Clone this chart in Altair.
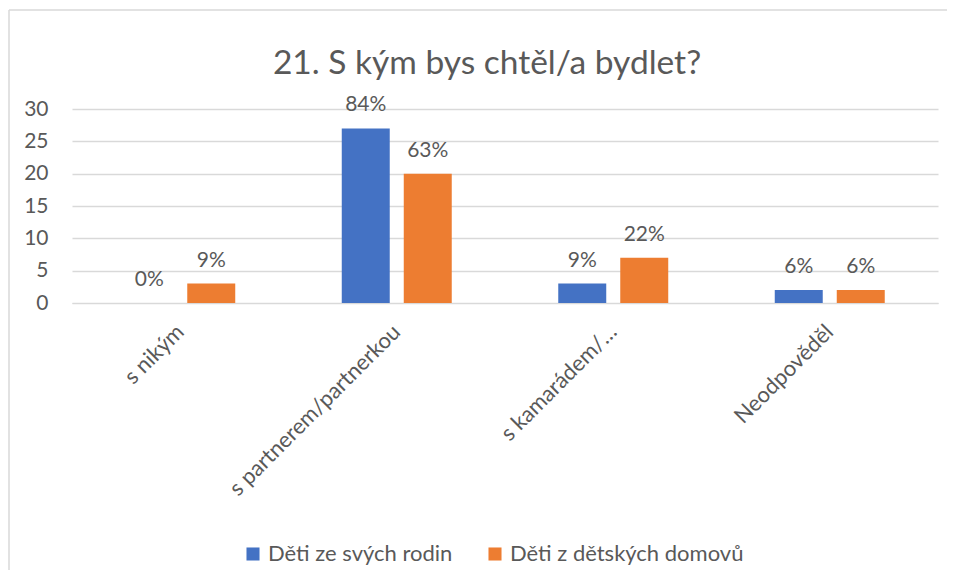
import altair as alt
import pandas as pd

categories = ["s nikým", "s partnerem/partnerkou", "s kamarádem/…", "Neodpověděl"]
series = ["Děti ze svých rodin", "Děti z dětských domovů"]
rodiny = [0, 27, 3, 2]
domovy = [3, 20, 7, 2]
rodiny_pct = ["0%", "84%", "9%", "6%"]
domovy_pct = ["9%", "63%", "22%", "6%"]
colors = ["#4472C4", "#ED7D31"]
title_text = "21. S kým bys chtěl/a bydlet?"

rows = []
for i, c in enumerate(categories):
    rows.append({"kat": c, "serie": series[0], "v": rodiny[i], "pct": rodiny_pct[i]})
    rows.append({"kat": c, "serie": series[1], "v": domovy[i], "pct": domovy_pct[i]})
df = pd.DataFrame(rows)
one = pd.DataFrame({"t": [title_text]})

FONT = "Lato"
TXT = "#595959"
GRID = "#D9D9D9"
FS = 21

x_enc = alt.X("kat:N", sort=categories, title=None,
              scale=alt.Scale(paddingInner=0, paddingOuter=0),
              axis=alt.Axis(labelAngle=-45, labelAlign="right", labelBaseline="middle",
                            labelPadding=25, ticks=False, domain=True, domainColor=GRID,
                            labelFontSize=22, labelColor=TXT, labelFont=FONT, labelLimit=400))
xo_enc = alt.XOffset("serie:N", sort=series,
                     scale=alt.Scale(paddingInner=0.226, paddingOuter=0.859))
y_enc = alt.Y("v:Q", title=None,
              scale=alt.Scale(domain=[0, 30], nice=False),
              axis=alt.Axis(values=[0, 5, 10, 15, 20, 25, 30], ticks=False, domain=False,
                            gridColor=GRID, gridWidth=1.3, labelFontSize=FS, labelColor=TXT,
                            labelFont=FONT, labelPadding=24, labelOverlap=False))

bars = alt.Chart(df).mark_bar().encode(
    x=x_enc, xOffset=xo_enc, y=y_enc,
    color=alt.Color("serie:N", sort=series, title=None,
                    scale=alt.Scale(domain=series, range=colors),
                    legend=alt.Legend(orient="none", legendX=170, legendY=434,
                                      direction="horizontal", symbolType="square",
                                      symbolSize=170, symbolStrokeWidth=0,
                                      labelFontSize=22, labelColor=TXT, labelFont=FONT,
                                      columnPadding=31, labelOffset=4, labelLimit=400))
)

labels = alt.Chart(df).mark_text(baseline="alphabetic", dy=-17, fontSize=FS,
                                 color=TXT, font=FONT).encode(
    x=x_enc, xOffset=xo_enc, y=y_enc, text="pct:N")

title = alt.Chart(one).mark_text(fontSize=33.5, font=FONT, color=TXT, align="center",
                                 baseline="alphabetic").encode(
    x=alt.value(415), y=alt.value(-35), text="t:N")

border_top = alt.Chart(one).mark_rule(color=GRID, strokeWidth=1.5).encode(
    x=alt.value(-63), x2=alt.value(880), y=alt.value(-99))
border_left = alt.Chart(one).mark_rule(color=GRID, strokeWidth=1.5).encode(
    x=alt.value(-63), y=alt.value(-99), y2=alt.value(480))

chart = alt.layer(border_top, border_left, title, bars, labels).properties(
    width=866, height=194,
    autosize=alt.AutoSizeParams(type="none"),
    padding={"left": 64, "top": 101, "right": 9, "bottom": 267},
).configure_view(stroke=None)

chart.save("out.html", embed_options={"renderer": "svg", "actions": False})
